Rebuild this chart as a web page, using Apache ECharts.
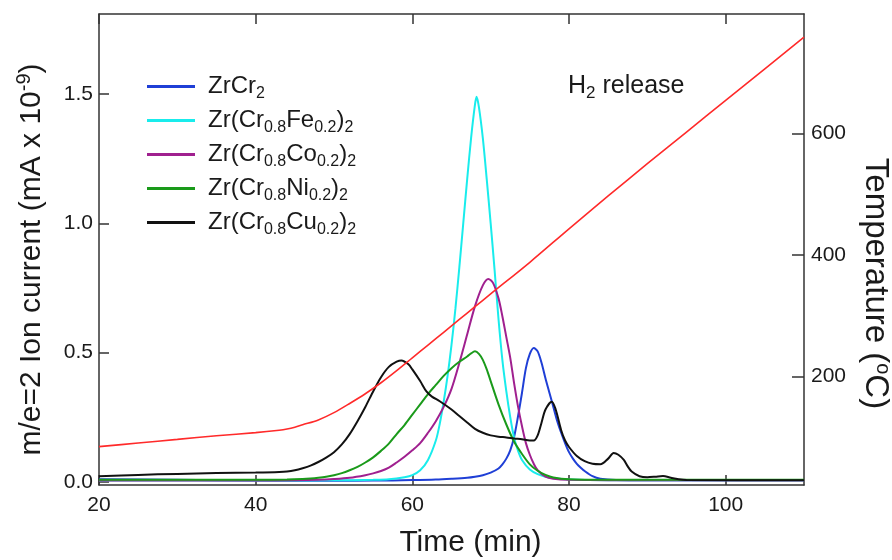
<!DOCTYPE html>
<html>
<head>
<meta charset="utf-8">
<script src="https://cdn.jsdelivr.net/npm/echarts@6/dist/echarts.min.js"></script>
<style>
  html, body { margin: 0; padding: 0; background: #fff; }
  #chart { width: 892px; height: 560px; }
</style>
</head>
<body>
<div id="chart"></div>
<script>
// Heating ramp (time in min, temperature in °C)
const tempTime   = [20, 25, 30, 35, 40, 43, 44, 45, 46, 48, 50, 52, 54, 56, 58, 60, 62, 64, 66, 68, 70, 75, 80, 85, 90, 95, 100, 105, 110];
const tempValues = [85, 91, 97, 103, 108, 112, 114, 117, 121, 129, 141, 156, 172, 190, 210, 231, 252, 273, 294, 315, 336, 388, 443, 497, 550, 602, 654, 706, 758];

// m/e=2 ion current (mA x 1e-9) for each alloy
const crTime   = [20, 30, 40, 50, 55, 60, 63, 65, 67, 68, 69, 70, 71, 71.5, 72, 72.5, 73, 73.5, 74, 74.5, 75, 75.5, 76, 76.5, 77, 77.5, 78, 78.5, 79, 79.5, 80, 80.5, 81, 81.5, 82, 83, 84, 86, 90, 110];
const crValues = [0.01, 0.008, 0.005, 0.004, 0.005, 0.007, 0.009, 0.012, 0.016, 0.02, 0.026, 0.036, 0.052, 0.068, 0.09, 0.122, 0.175, 0.255, 0.345, 0.44, 0.495, 0.518, 0.505, 0.46, 0.40, 0.345, 0.29, 0.235, 0.19, 0.15, 0.115, 0.09, 0.07, 0.055, 0.042, 0.022, 0.012, 0.007, 0.006, 0.006];

const feTime   = [20, 40, 50, 55, 57, 59, 60, 61, 62, 63, 63.5, 64, 64.5, 65, 65.5, 66, 66.5, 67, 67.5, 68, 68.2, 68.5, 69, 69.5, 70, 70.5, 71, 71.5, 72, 72.5, 73, 73.5, 74, 75, 76, 77, 78, 80, 85, 110];
const feValues = [0.005, 0.005, 0.006, 0.008, 0.01, 0.018, 0.026, 0.045, 0.085, 0.16, 0.225, 0.31, 0.41, 0.53, 0.67, 0.83, 1.0, 1.17, 1.33, 1.46, 1.49, 1.45, 1.33, 1.17, 1.0, 0.82, 0.63, 0.47, 0.35, 0.25, 0.17, 0.12, 0.085, 0.048, 0.03, 0.02, 0.014, 0.009, 0.006, 0.006];

const coTime   = [20, 40, 45, 48, 50, 52, 54, 55, 56, 57, 58, 59, 60, 61, 62, 63, 64, 65, 66, 67, 68, 69, 69.7, 70.3, 71, 71.5, 72, 72.5, 73, 73.5, 74, 74.5, 75, 75.5, 76, 77, 78, 80, 90, 110];
const coValues = [0.005, 0.005, 0.006, 0.008, 0.011, 0.016, 0.026, 0.033, 0.042, 0.055, 0.075, 0.097, 0.122, 0.15, 0.19, 0.235, 0.29, 0.36, 0.46, 0.57, 0.68, 0.76, 0.785, 0.77, 0.71, 0.64, 0.56, 0.48, 0.38, 0.29, 0.215, 0.15, 0.105, 0.07, 0.045, 0.02, 0.012, 0.008, 0.006, 0.006];

const niTime   = [20, 40, 44, 46, 47, 48, 49, 50, 51, 52, 53, 54, 55, 56, 57, 58, 59, 60, 61, 62, 63, 64, 65, 66, 67, 67.5, 68, 68.5, 69, 69.5, 70, 71, 72, 73, 74, 75, 76, 77, 78, 80, 85, 110];
const niValues = [0.008, 0.008, 0.009, 0.011, 0.013, 0.016, 0.02, 0.026, 0.034, 0.045, 0.058, 0.075, 0.095, 0.12, 0.148, 0.185, 0.22, 0.26, 0.30, 0.34, 0.375, 0.41, 0.44, 0.465, 0.485, 0.497, 0.505, 0.495, 0.472, 0.435, 0.39, 0.30, 0.222, 0.155, 0.108, 0.068, 0.043, 0.027, 0.017, 0.01, 0.008, 0.008];

const cuTime   = [20, 25, 30, 35, 40, 43, 44, 45, 46, 47, 48, 49, 50, 51, 52, 53, 54, 55, 56, 57, 58, 58.6, 59.5, 60, 61, 61.8, 62.5, 63.5, 65, 66, 67, 68, 69, 70, 71, 72, 73, 74, 75, 75.5, 76, 76.5, 77, 77.8, 78.3, 79, 79.5, 80, 81, 82, 83, 84, 85, 85.7, 86.3, 87, 87.5, 88, 89, 90, 91, 92, 93, 94, 95, 110];
const cuValues = [0.022, 0.027, 0.031, 0.034, 0.036, 0.038, 0.04, 0.045, 0.053, 0.063, 0.077, 0.094, 0.115, 0.145, 0.185, 0.235, 0.29, 0.35, 0.405, 0.445, 0.465, 0.47, 0.455, 0.435, 0.39, 0.35, 0.33, 0.312, 0.28, 0.255, 0.23, 0.205, 0.19, 0.18, 0.175, 0.172, 0.168, 0.165, 0.16, 0.16, 0.18, 0.23, 0.28, 0.31, 0.28, 0.2, 0.16, 0.135, 0.1, 0.08, 0.07, 0.068, 0.09, 0.112, 0.105, 0.085, 0.06, 0.04, 0.022, 0.018, 0.02, 0.023, 0.016, 0.01, 0.007, 0.006];

// Axis ticks
const timeTicks    = [20, 40, 60, 80, 100];
const currentTicks = [0, 0.5, 1.0, 1.5];
const tempTicks    = [200, 400, 600];

const seriesNames = ['ZrCr2', 'Zr(Cr0.8Fe0.2)2', 'Zr(Cr0.8Co0.2)2', 'Zr(Cr0.8Ni0.2)2', 'Zr(Cr0.8Cu0.2)2'];
const seriesColors = ['#1f3fd6', '#19ecec', '#a0208f', '#1a9a1a', '#111111'];
const seriesTimes = [crTime, feTime, coTime, niTime, cuTime];
const seriesValues = [crValues, feValues, coValues, niValues, cuValues];

// Legend labels with subscripts as rich text
const legendLabels = {
  'ZrCr2':           '{f|ZrCr}{s|2}',
  'Zr(Cr0.8Fe0.2)2': '{f|Zr(Cr}{s|0.8}{m|Fe}{s|0.2}{m|)}{s|2}',
  'Zr(Cr0.8Co0.2)2': '{f|Zr(Cr}{s|0.8}{m|Co}{s|0.2}{m|)}{s|2}',
  'Zr(Cr0.8Ni0.2)2': '{f|Zr(Cr}{s|0.8}{m|Ni}{s|0.2}{m|)}{s|2}',
  'Zr(Cr0.8Cu0.2)2': '{f|Zr(Cr}{s|0.8}{m|Cu}{s|0.2}{m|)}{s|2}'
};

const FONT = '"Liberation Sans", Arial, Helvetica, sans-serif';
const AXIS_COLOR = '#333';
const TEXT_COLOR = '#1a1a1a';

function zip(t, v) { return t.map((x, i) => [x, v[i]]); }

const chart = echarts.init(document.getElementById('chart'), null, { renderer: 'canvas' });

const lineSeries = seriesNames.map((name, i) => ({
  type: 'line',
  name: name,
  xAxisIndex: 0,
  yAxisIndex: 0,
  data: zip(seriesTimes[i], seriesValues[i]),
  showSymbol: false,
  symbol: 'none',
  smooth: 0.3,
  lineStyle: { color: seriesColors[i], width: 2 },
  itemStyle: { color: seriesColors[i] },
  emphasis: { disabled: true },
  z: 3
}));

lineSeries.push({
  type: 'line',
  name: 'Temperature',
  xAxisIndex: 0,
  yAxisIndex: 1,
  data: zip(tempTime, tempValues),
  showSymbol: false,
  symbol: 'none',
  smooth: 0.3,
  lineStyle: { color: '#ff2a2a', width: 1.6 },
  itemStyle: { color: '#ff2a2a' },
  emphasis: { disabled: true },
  z: 4
});

const tickStyle = { color: AXIS_COLOR, width: 1.5 };
const labelBase = { fontSize: 21, color: TEXT_COLOR, fontFamily: FONT };

chart.setOption({
  animation: false,
  backgroundColor: '#fff',
  grid: { left: 99, right: 88, top: 14, bottom: 75, containLabel: false, outerBoundsMode: 'none' },
  title: {
    text: '{m|H}{s|2}{m| release}',
    left: 563,
    top: 66,
    textStyle: {
      fontWeight: 'normal',
      rich: {
        m: { fontSize: 25, fontWeight: 'normal', fontFamily: FONT, color: TEXT_COLOR, lineHeight: 30 },
        s: { fontSize: 17, fontWeight: 'normal', fontFamily: FONT, color: TEXT_COLOR, lineHeight: 30, padding: [14, 0, 0, 0] }
      }
    }
  },
  legend: {
    data: seriesNames,
    orient: 'vertical',
    left: 142,
    top: 66,
    icon: 'rect',
    itemWidth: 48,
    itemHeight: 3,
    itemGap: 3,
    selectedMode: false,
    formatter: (n) => legendLabels[n],
    textStyle: {
      rich: {
        f: { fontSize: 24, fontFamily: FONT, color: TEXT_COLOR, lineHeight: 26, padding: [0, 0, 0, 8] },
        m: { fontSize: 24, fontFamily: FONT, color: TEXT_COLOR, lineHeight: 26 },
        s: { fontSize: 16, fontFamily: FONT, color: TEXT_COLOR, lineHeight: 26, padding: [15, 0, 0, 0] }
      }
    }
  },
  xAxis: [
    {
      type: 'value',
      position: 'bottom',
      min: 20,
      max: 110,
      name: 'Time (min)',
      nameLocation: 'middle',
      nameGap: 43,
      nameTextStyle: { fontSize: 30, fontFamily: FONT, color: TEXT_COLOR, padding: [0, 0, 0, 38] },
      axisLine: { show: true, onZero: false, lineStyle: tickStyle },
      axisTick: { show: true, inside: true, length: 10, lineStyle: tickStyle, customValues: timeTicks },
      axisLabel: Object.assign({ margin: 10, customValues: timeTicks }, labelBase),
      splitLine: { show: false }
    },
    {
      type: 'value',
      position: 'top',
      min: 20,
      max: 110,
      axisLine: { show: true, onZero: false, lineStyle: tickStyle },
      axisTick: { show: true, inside: true, length: 10, lineStyle: tickStyle, customValues: timeTicks },
      axisLabel: { show: false },
      splitLine: { show: false }
    }
  ],
  yAxis: [
    {
      type: 'value',
      position: 'left',
      min: -0.012,
      max: 1.81,
      name: '{m|m/e=2 Ion current (mA x 10}{p|-9}{m|)}',
      nameLocation: 'middle',
      nameGap: 50,
      nameTextStyle: {
        padding: [0, 20, 0, 0],
        rich: {
          m: { fontSize: 30, fontFamily: FONT, color: TEXT_COLOR, lineHeight: 34 },
          p: { fontSize: 20, fontFamily: FONT, color: TEXT_COLOR, lineHeight: 34, padding: [0, 0, 16, 0] }
        }
      },
      axisLine: { show: true, onZero: false, lineStyle: tickStyle },
      axisTick: { show: true, inside: true, length: 10, lineStyle: tickStyle, customValues: currentTicks },
      axisLabel: Object.assign({ margin: 6, customValues: currentTicks, formatter: (v) => v.toFixed(1) }, labelBase),
      splitLine: { show: false }
    },
    {
      type: 'value',
      position: 'right',
      min: 22,
      max: 796,
      name: '{m|Temperature (}{p|o}{m|C)}',
      nameLocation: 'middle',
      nameRotate: -90,
      nameGap: 53,
      nameTextStyle: {
        padding: [0, 0, 0, 68],
        rich: {
          m: { fontSize: 33, fontFamily: FONT, color: TEXT_COLOR, lineHeight: 34 },
          p: { fontSize: 20, fontFamily: FONT, color: TEXT_COLOR, lineHeight: 34, padding: [0, 0, 16, 0] }
        }
      },
      axisLine: { show: true, onZero: false, lineStyle: tickStyle },
      axisTick: { show: true, inside: true, length: 12, lineStyle: tickStyle, customValues: tempTicks },
      axisLabel: Object.assign({ margin: 7, customValues: tempTicks }, labelBase),
      splitLine: { show: false }
    }
  ],
  series: lineSeries
});
</script>
</body>
</html>
